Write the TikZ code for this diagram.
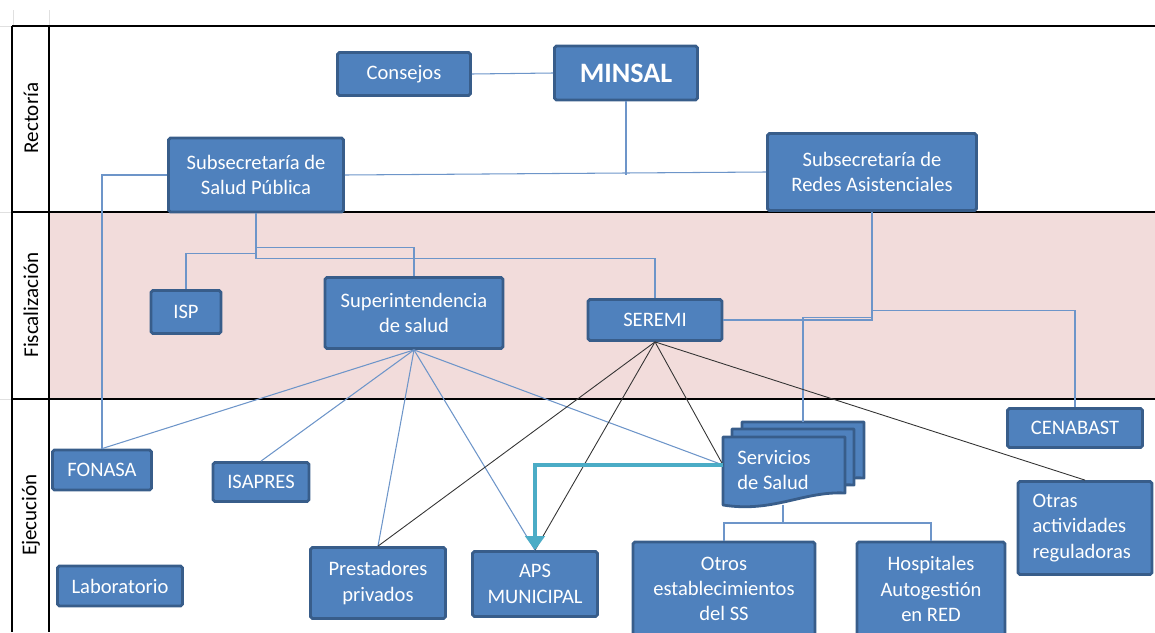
\documentclass[tikz,border=0pt]{standalone}
\usepackage{fontspec}
\setmainfont{Carlito}
\usetikzlibrary{arrows.meta}
\definecolor{boxfill}{HTML}{4F81BD}
\definecolor{boxline}{HTML}{385D8A}
\definecolor{linkblue}{HTML}{6D95C9}
\definecolor{bandpink}{HTML}{F2DCDB}
\definecolor{flowteal}{HTML}{4BACC6}
\tikzset{
  org_box/.style = {rectangle, draw=boxline, fill=boxfill, line width=1.6pt,
    rounded corners=1pt, text=white, align=center, inner sep=2pt,
    font=\fontsize{11.7}{14.4}\selectfont},% caja azul
  serv_text/.style = {rectangle, text=white, align=left, inner sep=0pt,
    anchor=west, font=\fontsize{11.7}{14.4}\selectfont},% texto del documento multiple
  doc_shape/.style = {draw=boxline, fill=boxfill, line width=1.6pt, line join=round},
  link_line/.style = {draw=linkblue, line width=0.6pt},
  black_line/.style = {draw=black!80, line width=0.5pt},
  flow_arrow/.style = {draw=flowteal, line width=2.8pt,
    -{Triangle[width=11pt,length=8pt]}},
  frame_line/.style = {draw=black, line width=0.8pt},
  grid_line/.style = {draw=black!12, line width=0.5pt},
  band_label/.style = {rotate=90, font=\fontsize{12}{14}\selectfont}
}
% una hoja del documento multiple (esquina sup. izq.)
\newcommand{\docpage}[2]{%
  \draw[doc_shape] (#1,#2) -- ({#1+122},#2) -- ({#1+122},{#2+56})
    .. controls ({#1+80},{#2+54}) and ({#1+50},{#2+76}) .. (#1,{#2+68}) -- cycle;}

\begin{document}
\begin{tikzpicture}[x=0.02cm, y=-0.02cm]
  \useasboundingbox (0,0) rectangle (1155,632);
  % bandas
  \fill[bandpink] (49,212) rectangle (1155,399);
  \foreach \gx in {13,49} \draw[grid_line] (\gx,10) -- (\gx,26);
  \foreach \gy in {26,212,399} \draw[grid_line] (0,\gy) -- (12,\gy);
  \draw[frame_line] (12,26) -- (1155,26);
  \draw[frame_line] (12,26) -- (12,632);
  \draw[frame_line] (49,26) -- (49,632);
  \draw[frame_line] (12,212) -- (1155,212);
  \draw[frame_line] (12,399) -- (1155,399);
  \node[band_label] (lbl_rectoria) at (31,118) {Rectoría};
  \node[band_label] (lbl_fiscal) at (31,305) {Fiscalización};
  \node[band_label] (lbl_ejec) at (31,515) {Ejecución};

  % cajas
  \node[org_box, minimum width=2.66cm, minimum height=0.86cm] (consejos) at (404,74) {Consejos};
  \node[org_box, minimum width=2.86cm, minimum height=1.08cm,
    font=\fontsize{16}{18}\selectfont\bfseries] (minsal) at (626,73) {MINSAL};
  \node[org_box, minimum width=3.5cm, minimum height=1.48cm] (sub_sp) at (256,175) {Subsecretaría de\\Salud Pública};
  \node[org_box, minimum width=4.18cm, minimum height=1.54cm] (sub_redes) at (872,172) {Subsecretaría de\\Redes Asistenciales};
  \node[org_box, minimum width=1.4cm, minimum height=0.86cm] (isp) at (186,312) {ISP};
  \node[org_box, minimum width=3.56cm, minimum height=1.42cm] (superint) at (414,313) {Superintendencia\\de salud};
  \node[org_box, minimum width=2.68cm, minimum height=0.82cm] (seremi) at (655,320) {SEREMI};
  \node[org_box, minimum width=2.7cm, minimum height=0.78cm] (cenabast) at (1075,428) {CENABAST};
  \node[org_box, minimum width=1.98cm, minimum height=0.8cm] (fonasa) at (102,470) {FONASA};
  \node[org_box, minimum width=1.92cm, minimum height=0.78cm] (isapres) at (261,482) {ISAPRES};
  \node[org_box, minimum width=2.5cm, minimum height=0.8cm] (laboratorio) at (120,586) {Laboratorio};
  \node[org_box, minimum width=2.7cm, minimum height=1.42cm] (prestadores) at (378,583) {Prestadores\\privados};
  \node[org_box, minimum width=2.5cm, minimum height=1.3cm] (aps) at (535,584) {APS\\MUNICIPAL};
  \node[org_box, minimum width=3.64cm, minimum height=1.88cm] (otros_est) at (724,589) {Otros\\establecimientos\\del SS};
  \node[org_box, minimum width=2.96cm, minimum height=1.88cm] (hospitales) at (931,589) {Hospitales\\Autogestión\\en RED};
  \node[org_box, minimum width=2.68cm, minimum height=1.86cm, align=left,
    text width=2.1cm] (otras_act) at (1085,528) {Otras\\actividades\\reguladoras};

  % servicios de salud (documento multiple)
  \docpage{742}{422}
  \docpage{732}{429}
  \docpage{723}{437}
  \node[serv_text] (servicios) at (737,470) {Servicios\\de Salud};
  \coordinate (serv_in) at (723,465);
  \coordinate (serv_top) at (803,422);
  \coordinate (serv_bottom) at (783,505);

  % conectores
  \draw[link_line] (consejos.east) -- (minsal.west);
  \draw[link_line] (sub_sp.east) -- (sub_redes.west);
  \draw[link_line] (minsal.south) -- (minsal.south |- sub_sp.east);
  \draw[link_line] (sub_sp.west) -| (fonasa.north);
  \draw[link_line] (sub_sp.south) -- ++(0,40) -| (isp.north);
  \draw[link_line] (sub_sp.south) -- ++(0,34) -| (superint.north);
  \draw[link_line] (sub_sp.south) -- ++(0,45) -| (seremi.north);
  \draw[link_line] (sub_redes.south) |- (seremi.east);
  \draw[link_line] (sub_redes.south) -- ++(0,99) -| (cenabast.north);
  \draw[link_line] (sub_redes.south) -- ++(0,106) -| (serv_top);
  \foreach \dst in {fonasa.north, isapres.north, prestadores.north, aps.north, serv_in}
    \draw[link_line] (superint.south) -- (\dst);
  \foreach \dst in {prestadores.north, aps.north, serv_in, otras_act.north}
    \draw[black_line] (seremi.south) -- (\dst);
  \draw[link_line] (serv_bottom) -- ++(0,18) -| (otros_est.north);
  \draw[link_line] (serv_bottom) -- ++(0,18) -| (hospitales.north);
  \draw[flow_arrow] (serv_in) -| (aps.north);
\end{tikzpicture}
\end{document}
